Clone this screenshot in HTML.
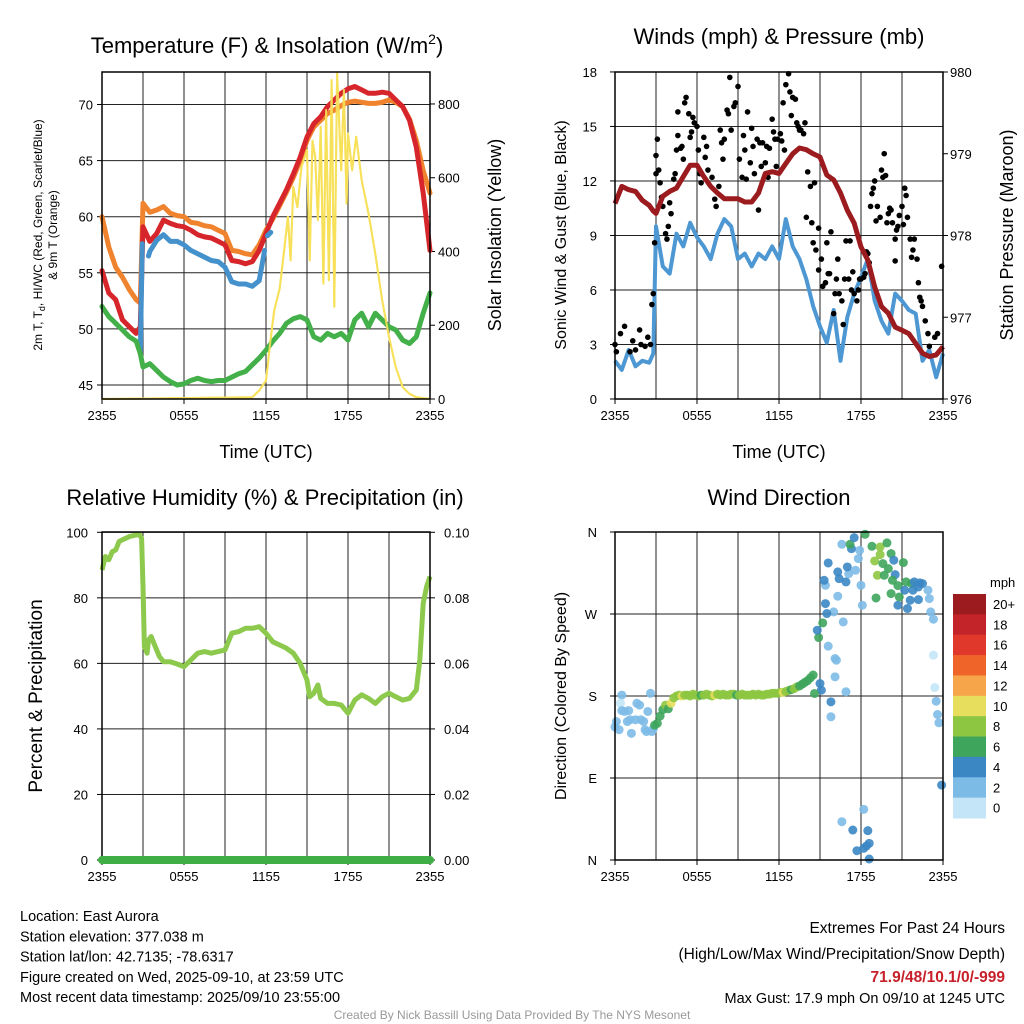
<!DOCTYPE html>
<html><head><meta charset="utf-8"><style>
html,body{margin:0;padding:0;background:#fff}
svg{display:block;font-family:"Liberation Sans",Arial,sans-serif}
</style></head><body>
<svg id="chart" width="1024" height="1024" viewBox="0 0 1024 1024" xmlns="http://www.w3.org/2000/svg">
<g id="layer"></g>
</svg>
<script>
// ---------- DATA ----------
const tHours=[0,0.5,1,1.5,2,2.5,2.8,3,3.5,4,4.5,5,5.5,6,6.5,7,7.5,8,8.5,9,9.5,10,10.5,11,11.5,12,12.5,13,13.5,14,14.5,15,15.5,16,16.5,17,17.5,18,18.5,19,19.5,20,20.5,21,21.5,22,22.5,23,23.5,24];
const tempRed=[55.2,53.2,52.6,50.8,50.2,49.6,50.2,59.1,57.8,58.5,59.7,59.4,59.2,59.1,58.8,58.4,58.2,58.1,57.8,57.5,56.1,56.0,55.8,56.0,57.0,58.5,60.0,61.2,62.4,63.8,65.3,67.1,68.3,68.9,69.8,70.4,71.0,71.4,71.6,71.3,71.0,71.0,71.1,71.0,70.4,69.8,68.6,66.2,62.1,57.0];
const temp9m=[60.0,57.3,55.5,54.6,53.5,52.6,52.3,61.2,60.4,60.6,60.9,60.3,60.1,60.0,59.5,59.4,59.2,59.1,58.8,58.5,57.0,56.9,56.7,56.6,57.5,58.8,59.8,61.0,62.2,63.5,65.0,66.8,68.0,68.6,69.2,69.5,69.9,70.2,70.3,70.2,70.1,70.1,70.2,70.4,70.2,69.8,68.7,66.8,64.1,62.1];
const dewpoint=[52.0,51.1,50.5,49.9,49.3,48.9,47.8,46.6,46.9,46.3,45.7,45.3,45.0,45.1,45.4,45.6,45.4,45.3,45.4,45.4,45.7,46.0,46.2,46.8,47.4,48.1,48.9,49.6,50.5,50.9,51.1,50.8,49.3,49.0,49.6,49.3,49.6,49.0,50.8,51.4,50.2,51.4,50.8,50.2,49.9,49.0,48.7,49.3,51.4,53.2];
const hiHours=[2.8,2.95,3.05,3.4,3.5,4,4.5,5,5.5,6,6.5,7,7.5,8,8.5,9,9.5,10,10.5,11,11.5,11.9,12.0,12.1,12.35];
const hiwc=[47.8,57.6,null,56.5,56.9,57.9,58.4,57.8,57.8,57.5,57.0,56.7,56.4,56.1,56.0,55.5,54.2,54.0,54.0,53.8,54.3,57.0,null,58.3,58.6];
const solarHours=[0,11,11.5,12,12.3,12.6,13,13.3,13.6,13.8,14,14.3,14.6,15,15.2,15.4,15.6,15.8,16,16.2,16.4,16.6,16.8,17,17.2,17.5,17.7,17.9,18,18.3,18.6,19,19.5,20,20.5,21,21.5,22,22.5,23,24];
const solar=[0,5,23,50,150,240,300,395,494,376,575,520,630,675,376,700,657,485,738,313,784,322,865,250,883,620,838,530,720,620,711,593,503,394,267,168,86,32,14,5,0];
const windSpeed=[2.1,1.6,2.7,1.8,2.1,2.0,2.5,9.5,7.3,6.9,9.1,8.4,9.7,8.9,8.4,7.7,9.1,9.9,9.5,7.7,8.0,7.3,8.0,7.7,8.4,7.7,9.9,8.4,7.7,6.6,5.1,4.0,3.1,4.9,2.1,4.5,5.8,6.7,7.7,5.4,4.3,3.6,5.8,5.4,4.9,4.7,2.1,2.7,1.2,2.5];
const pressure=[978.39,978.60,978.56,978.54,978.43,978.37,978.30,978.27,978.48,978.54,978.58,978.72,978.86,978.86,978.72,978.60,978.52,978.45,978.45,978.45,978.41,978.41,978.52,978.76,978.78,978.76,978.88,979.00,979.07,979.05,979.00,978.96,978.74,978.68,978.52,978.31,978.15,977.86,977.70,977.37,977.13,977.05,976.88,976.84,976.80,976.68,976.56,976.52,976.54,976.64];
const gustHours=[0.0,0.1,0.4,0.7,1.1,1.3,1.5,1.8,1.9,2.2,2.4,2.6,2.7,2.8,2.9,3.0,3.0,3.1,3.2,3.3,3.4,3.5,3.7,3.8,3.9,4.0,4.1,4.3,4.4,4.5,4.6,4.6,4.8,4.9,5.0,5.1,5.2,5.4,5.5,5.6,5.7,5.8,6.0,6.1,6.2,6.3,6.5,6.6,6.7,6.8,7.1,7.3,7.4,7.6,7.7,7.8,7.9,8.0,8.2,8.3,8.4,8.5,8.7,8.8,9.0,9.1,9.3,9.4,9.5,9.6,9.7,9.9,10.0,10.1,10.2,10.4,10.5,10.6,10.7,10.8,11.0,11.1,11.2,11.3,11.5,11.6,11.7,11.8,11.9,12.1,12.2,12.3,12.4,12.5,12.7,12.8,12.9,13.0,13.2,13.3,13.4,13.5,13.6,13.8,13.9,14.0,14.1,14.3,14.4,14.5,14.6,14.7,14.9,14.9,15.1,15.2,15.4,15.5,15.6,15.7,15.8,16.0,16.1,16.2,16.3,16.4,16.6,16.7,16.8,16.9,17.1,17.2,17.3,17.4,17.5,17.7,17.8,17.9,18.0,18.2,18.3,18.4,18.5,18.6,18.7,18.8,18.9,19.0,19.1,19.2,19.4,19.5,19.6,19.7,19.8,19.9,20.0,20.1,20.2,20.3,20.5,20.5,20.6,20.7,20.8,21.0,21.1,21.2,21.3,21.4,21.6,21.7,21.8,21.9,22.1,22.2,22.3,22.4,22.5,22.7,22.9,23.0,23.4,23.6,23.9];
const gustSpeed=[3.0,2.6,3.6,4.0,2.6,3.2,2.7,3.8,3.0,2.9,3.4,3.0,5.2,5.8,8.6,12.4,13.4,14.3,12.6,11.9,11.1,10.6,9.1,8.8,9.5,10.8,10.2,12.1,12.4,13.7,15.8,14.5,13.8,13.9,13.2,16.3,16.6,15.7,14.4,14.7,15.5,15.2,15.0,13.7,12.4,11.9,14.4,13.3,13.9,12.6,12.2,11.0,10.6,11.7,14.8,14.1,13.2,14.3,15.9,15.7,17.7,14.8,16.1,16.3,17.2,13.2,12.2,14.5,13.7,12.1,15.8,13.0,14.9,13.9,12.4,14.3,10.4,14.1,12.8,14.1,13.0,13.9,12.2,13.8,15.4,14.7,14.3,12.8,14.3,14.6,14.2,16.3,13.7,17.3,17.9,16.9,15.6,16.6,16.5,15.2,15.0,14.8,14.8,14.6,15.2,10.0,12.5,11.7,9.7,8.6,11.9,8.2,7.1,9.4,7.7,6.2,6.4,8.6,6.9,6.9,9.2,4.7,5.8,6.6,7.7,5.8,5.4,4.1,6.6,8.7,6.6,8.7,6.0,7.0,5.8,5.4,6.0,6.6,6.6,6.7,6.9,8.1,8.0,7.5,10.6,11.3,11.6,12.0,9.8,10.6,10.0,12.6,12.2,13.5,12.3,9.7,10.2,10.5,10.4,9.7,8.8,7.6,9.3,9.5,10.1,10.6,9.6,11.6,11.2,10.0,8.8,7.8,8.2,8.8,7.7,6.4,5.6,5.4,5.1,4.3,3.6,2.9,3.4,3.6,7.3];
const rhHours=[0,0.25,0.5,0.75,1,1.25,1.5,2,2.5,2.75,2.9,3.0,3.1,3.3,3.4,3.6,3.9,4.2,4.5,5,5.5,6,6.5,7,7.5,8,8.5,9,9.5,10,10.5,11,11.5,12,12.5,13,13.5,14,14.5,15,15.2,15.5,15.8,16,16.5,17,17.5,18,18.5,19,19.5,20,20.5,21,21.5,22,22.5,23,23.25,23.5,23.75,24];
const rh=[88.5,92.6,91.6,94.1,94.6,97.2,97.7,98.7,99.2,99.2,98.2,83.4,65.1,63.1,67.1,68.2,65.1,62.1,60.5,60.5,59.8,59.0,61.0,63.1,63.6,63.1,63.6,64.1,69.2,69.7,70.7,70.7,71.2,69.2,66.6,65.6,64.6,63.1,60.0,54.9,49.8,50.9,53.4,49.3,47.8,47.8,47.3,44.8,48.8,50.4,49.3,47.8,49.8,50.9,49.8,48.8,49.3,51.9,61.0,78.3,83.4,86.5];
const precipHours=[0,24];
const precip=[0,0];
const dirHours=[0.0,0.1,0.3,0.5,0.4,0.5,0.7,1.0,0.9,1.1,1.2,1.5,1.6,1.8,1.9,2.1,2.2,2.3,2.4,2.6,2.7,2.8,2.9,
3.1,3.3,3.5,3.7,3.9,4.1,4.3,4.5,4.7,4.9,5.1,5.3,5.5,5.7,5.9,6.1,6.3,6.5,6.7,6.9,7.1,7.3,7.5,7.7,7.9,8.1,8.3,8.5,8.7,8.9,9.1,9.3,9.5,9.7,9.9,10.1,10.3,10.5,10.7,10.9,11.1,11.3,11.5,11.7,11.9,12.1,12.3,12.5,12.7,12.9,13.1,13.3,13.5,13.7,13.9,14.1,14.3,14.5,
15.0,15.1,14.6,15.8,15.8,16.9,16.1,16.1,16.2,15.6,14.9,15.2,14.8,16.0,15.5,15.4,16.7,16.3,15.4,15.3,15.6,16.3,16.4,16.9,17.1,17.0,17.6,17.8,18.0,18.1,17.9,17.3,16.6,17.2,17.5,18.3,18.8,19.4,19.4,19.0,19.6,20.0,19.2,19.7,20.5,20.3,19.9,20.2,20.4,21.1,19.1,20.2,20.8,20.7,21.3,21.7,21.9,22.3,22.5,22.2,21.8,21.2,21.6,20.7,21.4,22.2,22.9,23.0,23.1,23.3,23.3,23.4,23.5,23.6,23.7,23.9,18.2,16.6,17.4,18.5,18.6,18.4,18.2,17.7,18.6];
const dirDeg=[146,152,143,181,172,164,163,164,152,154,139,154,172,170,154,152,143,141,163,183,141,144,148,
150,158,165,170,166,172,178,180,181,180,181,181,180,182,181,180,181,181,182,181,180,181,182,181,182,181,181,182,182,181,181,182,181,181,181,182,181,182,181,181,182,182,183,183,183,184,184,185,186,187,188,190,191,193,195,197,200,203,
193.7,186.4,182.8,173.6,157.2,184.6,201.0,221.1,219.3,234.7,244.2,260.2,252.2,272.3,270.5,281.4,261.3,289.5,301.5,307.0,326.0,316.2,308.8,305.2,314.3,321.6,318.0,330.8,301.5,279.6,339.9,341.7,346.5,346.5,353.8,357.5,344.3,343.6,335.2,328.2,325.3,319.8,312.5,312.5,313.2,307.0,348.0,336.3,329.0,326.4,287.6,292.4,288.7,301.2,305.2,303.4,305.2,304.1,303.4,299.7,296.1,296.1,285.1,279.6,276.0,285.8,296.1,286.9,272.3,264.3,224.8,189.3,174.3,159.7,150.6,82.2,55.6,42.0,32.9,32.2,18.3,15.4,12.8,10.2,1.1];
const dirSpeed=[3,3,3,3,1,3,3,3,3,3,3,3,3,3,3,3,3,3,3,3,3,3,7,
7,7,7,8,7,11,9,9,8,11,9,8,9,8,9,8,7,8,9,9,8,11,9,8,9,8,9,9,8,7,9,8,8,9,8,9,9,8,9,8,9,8,9,9,8,9,11,9,8,7,9,8,7,7,7,7,6,7,
5,5,7,5,3,3,3,3,3,3,7,7,5,3,5,5,3,3,3,5,5,5,5,5,3,5,3,3,3,3,3,5,3,7,5,7,7,9,9,9,7,7,9,7,5,7,7,7,5,7,7,7,7,7,7,7,5,5,5,5,5,5,5,5,5,5,3,3,3,3,1,1,3,3,3,5,3,3,5,5,5,5,5,5,5];
const xTickLabels=["2355","0555","1155","1755","2355"];
const tempTicks=[45,50,55,60,65,70];
const solarTicks=[0,200,400,600,800];
const windTicks=[0,3,6,9,12,15,18];
const presTicks=[976,977,978,979,980];
const rhTicks=[0,20,40,60,80,100];
const precipTicks=["0.00","0.02","0.04","0.06","0.08","0.10"];
const dirTicks=[0,90,180,270,360];
const dirTickLabels=["N","E","S","W","N"];
const cbLabels=["20+","18","16","14","12","10","8","6","4","2","0"];
const cbColors=["#9b1b1f","#c3242a","#e0392b","#ef6428","#f6a54a","#e6de5c","#8dc641","#3ea55c","#3b87c4","#7dbbe7","#c3e5f7"];

// ---------- DRAWING ----------
const NS="http://www.w3.org/2000/svg";
const layer=document.getElementById('layer');
function el(tag,attrs,parent,text){const e=document.createElementNS(NS,tag);for(const k in attrs)e.setAttribute(k,attrs[k]);if(text!==undefined)e.textContent=text;(parent||layer).appendChild(e);return e;}
function speedColor(s){const i=Math.min(10,Math.floor(s/2));return cbColors[10-i];}
function pathFrom(xs,ys,sx,sy){let d="",pen=false;for(let i=0;i<xs.length;i++){if(ys[i]===null){pen=false;continue;}d+=(pen?"L":"M")+sx(xs[i]).toFixed(1)+","+sy(ys[i]).toFixed(1);pen=true;}return d;}

function frame(g,x0,x1,y0,y1,hy,fs){
  // verticals every 3h
  for(let h=3;h<24;h+=3){const x=x0+(x1-x0)*h/24;
    const l=el('line',{x1:x,x2:x,y1:y0,y2:y1,stroke:'#222','stroke-width':1},g);
    
    }
  hy.forEach(y=>{const l=el('line',{x1:x0,x2:x1,y1:y,y2:y,stroke:'#222','stroke-width':1},g);
    
    });
  const xt=[0,6,12,18,24];
  xt.forEach((h,i)=>{const x=x0+(x1-x0)*h/24;
    el('line',{x1:x,x2:x,y1:y1,y2:y1+5,stroke:'#000'},g);
    const t=el('text',{x:x,y:y1+21,'font-size':13,'text-anchor':'middle'},g,xTickLabels[i]);
    
    });
}
function border(g,x0,x1,y0,y1){const r=el('rect',{x:x0,y:y0,width:x1-x0,height:y1-y0,fill:'none',stroke:'#000','stroke-width':1.5},g);
  
  }

// Panel 1
(function(){
  const g=el('g',{});
  const x0=102,x1=430,y0=72,y1=399;
  const sx=h=>x0+(x1-x0)*h/24;
  const sy=v=>385-(v-45)*11.22;
  const sr=w=>399-w*0.3688;
  frame(g,x0,x1,y0,y1,tempTicks.map(sy),13);
  tempTicks.forEach(v=>{el('line',{x1:x0-5,x2:x0,y1:sy(v),y2:sy(v),stroke:'#000'},g);
    const t=el('text',{x:x0-9,y:sy(v)+5,'font-size':13,'text-anchor':'end'},g,v);
    });
  solarTicks.forEach(v=>{el('line',{x1:x1,x2:x1+5,y1:sr(v),y2:sr(v),stroke:'#000'},g);
    const t=el('text',{x:x1+8,y:sr(v)+5,'font-size':13},g,v);
    });
  const s=[[tHours,temp9m,'#f0832e','temp-9m-line'],[tHours,tempRed,'#d7262b','temp-2m-line'],[hiHours,hiwc,'#4591cc','hi-wc-line'],[tHours,dewpoint,'#43b04a','dewpoint-line']];
  const ys=el('path',{d:pathFrom(solarHours,solar,sx,sr),fill:'none',stroke:'#f7e15a','stroke-width':2,'stroke-linejoin':'round'},g);
  
  s.forEach(a=>{const p=el('path',{d:pathFrom(a[0],a[1],sx,sy),fill:'none',stroke:a[2],'stroke-width':5,'stroke-linejoin':'round','stroke-linecap':'round'},g);
    });
  el('path',{d:pathFrom(solarHours,solar,sx,sr),fill:'none',stroke:'#f7e15a','stroke-width':2,'stroke-linejoin':'round',opacity:0.9},g);
  border(g,x0,x1,y0,y1);
  const t=el('text',{x:267,y:53,'font-size':22,'text-anchor':'middle'},g);t.innerHTML='Temperature (F) &amp; Insolation (W/m<tspan dy="-9" font-size="14">2</tspan><tspan dy="9">)</tspan>';
  
  const xl=el('text',{x:266,y:458,'font-size':18,'text-anchor':'middle'},g,'Time (UTC)');
  const yl=el('text',{transform:'translate(42,235) rotate(-90)','font-size':12,'text-anchor':'middle'},g);
  yl.innerHTML='2m T, T<tspan dy="3" font-size="9">d</tspan><tspan dy="-3">, HI/WC (Red, Green, Scarlet/Blue)</tspan>';
  
  const yl2=el('text',{transform:'translate(57,235) rotate(-90)','font-size':12,'text-anchor':'middle'},g,'& 9m T (Orange)');
  
  const yr=el('text',{transform:'translate(501,235) rotate(-90)','font-size':18,'text-anchor':'middle'},g,'Solar Insolation (Yellow)');
  
})();

// Panel 2
(function(){
  const g=el('g',{});
  const x0=615,x1=943,y0=72,y1=399;
  const sx=h=>x0+(x1-x0)*h/24;
  const sy=v=>399-v*18.17;
  const sp=p=>399-(p-976)*81.75;
  frame(g,x0,x1,y0,y1,windTicks.map(sy),13);
  windTicks.forEach(v=>{el('line',{x1:x0-5,x2:x0,y1:sy(v),y2:sy(v),stroke:'#000'},g);
    const t=el('text',{x:x0-18,y:sy(v)+5,'font-size':13,'text-anchor':'end'},g,v);
    });
  presTicks.forEach(v=>{el('line',{x1:x1,x2:x1+5,y1:sp(v),y2:sp(v),stroke:'#000'},g);
    const t=el('text',{x:x1+7,y:sp(v)+5,'font-size':13},g,v);
    });
  const w=el('path',{d:pathFrom(tHours,windSpeed,sx,sy),fill:'none',stroke:'#4d97d3','stroke-width':4,'stroke-linejoin':'round'},g);
  
  gustHours.forEach((h,i)=>{const c=el('circle',{cx:sx(h),cy:sy(gustSpeed[i]),r:2.8,fill:'#000'},g);
    
    });
  const p=el('path',{d:pathFrom(tHours,pressure,sx,sp),fill:'none',stroke:'#9b1b1f','stroke-width':5,'stroke-linejoin':'round'},g);
  
  border(g,x0,x1,y0,y1);
  const t=el('text',{x:779,y:44,'font-size':22,'text-anchor':'middle'},g,'Winds (mph) & Pressure (mb)');
  const xl=el('text',{x:779,y:458,'font-size':18,'text-anchor':'middle'},g,'Time (UTC)');
  const yl=el('text',{transform:'translate(566,235) rotate(-90)','font-size':16,'text-anchor':'middle'},g,'Sonic Wind & Gust (Blue, Black)');
  
  const yr=el('text',{transform:'translate(1013,235) rotate(-90)','font-size':18,'text-anchor':'middle'},g,'Station Pressure (Maroon)');
  
})();

// Panel 3
(function(){
  const g=el('g',{});
  const x0=102,x1=430,y0=532,y1=860;
  const sx=h=>x0+(x1-x0)*h/24;
  const sy=v=>860-v*3.277;
  const sq=v=>860-v*3277;
  frame(g,x0,x1,y0,y1,rhTicks.map(sy),13);
  rhTicks.forEach(v=>{el('line',{x1:x0-5,x2:x0,y1:sy(v),y2:sy(v),stroke:'#000'},g);
    const t=el('text',{x:x0-14,y:sy(v)+5,'font-size':13,'text-anchor':'end'},g,v);
    });
  precipTicks.forEach(v=>{const y=sq(parseFloat(v));el('line',{x1:x1,x2:x1+5,y1:y,y2:y,stroke:'#000'},g);
    const t=el('text',{x:x1+14,y:y+5,'font-size':13},g,v);
    });
  const r=el('path',{d:pathFrom(rhHours,rh,sx,sy),fill:'none',stroke:'#8cc94c','stroke-width':5,'stroke-linejoin':'round'},g);
  
  border(g,x0,x1,y0,y1);
  const p=el('path',{d:pathFrom(precipHours,precip,sx,sq),fill:'none',stroke:'#3fae45','stroke-width':8,'stroke-linecap':'round'},g);
  
  const t=el('text',{x:265,y:505,'font-size':22,'text-anchor':'middle'},g,'Relative Humidity (%) & Precipitation (in)');
  const yl=el('text',{transform:'translate(42,696) rotate(-90)','font-size':19,'text-anchor':'middle'},g,'Percent & Precipitation');
  
})();

// Panel 4
(function(){
  const g=el('g',{});
  const x0=615,x1=943,y0=532,y1=860;
  const sx=h=>x0+(x1-x0)*h/24;
  const sy=d=>860-d*(328/360);
  frame(g,x0,x1,y0,y1,dirTicks.map(sy),13);
  dirTicks.forEach((v,i)=>{el('line',{x1:x0-5,x2:x0,y1:sy(v),y2:sy(v),stroke:'#000'},g);
    const t=el('text',{x:x0-18,y:sy(v)+5,'font-size':13,'text-anchor':'end'},g,dirTickLabels[i]);
    });
  dirHours.forEach((h,i)=>{const c=el('circle',{cx:sx(h),cy:sy(dirDeg[i]),r:4.5,fill:speedColor(dirSpeed[i]),opacity:0.9},g);
    
    });
  border(g,x0,x1,y0,y1);
  const t=el('text',{x:779,y:505,'font-size':22,'text-anchor':'middle'},g,'Wind Direction');
  const yl=el('text',{transform:'translate(566,696) rotate(-90)','font-size':16,'text-anchor':'middle'},g,'Direction (Colored By Speed)');
  
  // colorbar
  const cb=el('g',{},g);
  const h=224/11;
  cbColors.forEach((c,i)=>{const r=el('rect',{x:953,y:594+i*h,width:33,height:h+0.5,fill:c},cb);
    
    const t=el('text',{x:993,y:594+i*h+15,'font-size':13},cb,cbLabels[i]);
    });
  const u=el('text',{x:990,y:587,'font-size':13},cb,'mph');
})();

// footer
(function(){
  const g=el('g',{'font-size':14.5});
  const L=["Location: East Aurora","Station elevation: 377.038 m","Station lat/lon: 42.7135; -78.6317","Figure created on Wed, 2025-09-10, at 23:59 UTC","Most recent data timestamp: 2025/09/10 23:55:00"];
  L.forEach((s,i)=>{const t=el('text',{x:20,y:921+i*20.3},g,s);});
  const r1=el('text',{x:1005,y:933,'text-anchor':'end','font-size':15.5},g,'Extremes For Past 24 Hours');
  const r2=el('text',{x:1005,y:959,'text-anchor':'end','font-size':15.5},g,'(High/Low/Max Wind/Precipitation/Snow Depth)');
  const r3=el('text',{x:1005,y:982,'text-anchor':'end','font-size':15.5,'font-weight':'bold',fill:'#c8202a'},g,'71.9/48/10.1/0/-999');
  const r4=el('text',{x:1005,y:1003,'text-anchor':'end','font-size':14.5},g,'Max Gust: 17.9 mph On 09/10 at 1245 UTC');
  const c=el('text',{x:512,y:1019,'text-anchor':'middle','font-size':12,fill:'#999'},g,'Created By Nick Bassill Using Data Provided By The NYS Mesonet');
})();
</script>
</body></html>
